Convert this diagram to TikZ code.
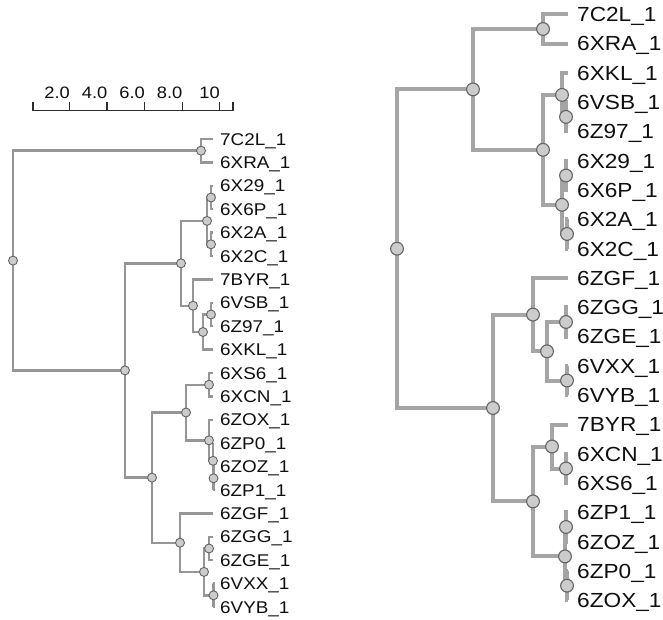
\documentclass[tikz,border=0pt]{standalone}
\usepackage{fontspec}
\setmainfont{Liberation Sans}[FakeStretch=1.11]
\definecolor{edgegray}{RGB}{150,150,150}
\definecolor{redgegray}{RGB}{165,165,165}
\definecolor{circfill}{RGB}{204,204,204}
\definecolor{circline}{RGB}{100,100,100}
\definecolor{txt}{RGB}{15,15,15}
\definecolor{scl}{RGB}{45,45,45}
\begin{document}
\begin{tikzpicture}[x=1pt,y=-1pt,
  ledge/.style={draw=edgegray, line width=2.4pt, line join=miter},
  redge/.style={draw=redgegray, line width=4pt, line join=miter},
  lcirc/.style={circle, fill=circfill, draw=circline, line width=0.9pt, minimum size=9pt, inner sep=0pt},
  rcirc/.style={circle, fill=circfill, draw=circline, line width=1.1pt, minimum size=12.8pt, inner sep=0pt},
  llab/.style={anchor=base west, inner sep=0pt, xshift=7pt, yshift=-6.1pt, text=txt, font=\fontsize{17}{19}\selectfont},
  rlab/.style={anchor=base west, inner sep=0pt, xshift=9pt, yshift=-7.3pt, text=txt, font=\fontsize{20.4}{23}\selectfont},
  slab/.style={anchor=base east, inner sep=0pt, text=txt, font=\fontsize{16.5}{18}\selectfont},
  sbar/.style={draw=scl, line width=1.1pt}
]
\useasboundingbox (0,0) rectangle (663,620);

% ---------------- scale bar ----------------
\coordinate (s0) at (33,110.7);
\coordinate (s1) at (69.3,110.7);
\coordinate (s2) at (106.8,110.7);
\coordinate (s3) at (144.6,110.7);
\coordinate (s4) at (182.2,110.7);
\coordinate (s5) at (219.5,110.7);
\coordinate (s6) at (233,110.7);
\draw[sbar] (s0) -- (s6);
\foreach \s in {s0,s1,s3,s4,s5,s6} {\draw[sbar] (\s) -- ++(0,-9);}
\draw[sbar, line width=2pt] (s2) -- ++(0,-9);
\node[slab] (sl1) at (70,98.3) {2.0};
\node[slab] (sl2) at (107.5,98.3) {4.0};
\node[slab] (sl3) at (145,98.3) {6.0};
\node[slab] (sl4) at (182.5,98.3) {8.0};
\node[slab] (sl5) at (220,98.3) {10};

% ---------------- left tree ----------------
\coordinate (l0) at (213,139);
\coordinate (l1) at (213,162.4);
\coordinate (l2) at (213,185.8);
\coordinate (l3) at (213,209.2);
\coordinate (l4) at (213,232.6);
\coordinate (l5) at (213,256);
\coordinate (l6) at (213,279.4);
\coordinate (l7) at (213,302.8);
\coordinate (l8) at (213,326.2);
\coordinate (l9) at (213,349.6);
\coordinate (l10) at (213,373);
\coordinate (l11) at (213,396.4);
\coordinate (l12) at (213,419.8);
\coordinate (l13) at (213,443.2);
\coordinate (l14) at (213,466.6);
\coordinate (l15) at (213,490);
\coordinate (l16) at (213,513.4);
\coordinate (l17) at (213,536.8);
\coordinate (l18) at (213,560.2);
\coordinate (l19) at (213,583.6);
\coordinate (l20) at (213,607);

\coordinate (la) at (201,150.7);
\coordinate (lc1a) at (211,197.5);
\coordinate (lc1b) at (211,244.3);
\coordinate (lc1) at (207,220.9);
\coordinate (le) at (211,314.5);
\coordinate (ld) at (203,332);
\coordinate (lc2) at (193,305.7);
\coordinate (lb1) at (181,263.3);
\coordinate (lh) at (209,384.7);
\coordinate (lk) at (213.5,478.3);
\coordinate (lj) at (213,460.8);
\coordinate (li) at (209,440.3);
\coordinate (lf) at (186,412.5);
\coordinate (lm) at (209,548.5);
\coordinate (ln) at (213.5,595.3);
\coordinate (ll) at (204,571.9);
\coordinate (lg) at (180,542.7);
\coordinate (lb2) at (152,477.6);
\coordinate (lb) at (125,370.4);
\coordinate (lroot) at (13,260.6);

\foreach \p/\c in {lroot/la, lroot/lb, la/l0, la/l1, lb/lb1, lb/lb2,
  lb1/lc1, lb1/lc2, lc1/lc1a, lc1/lc1b, lc1a/l2, lc1a/l3, lc1b/l4, lc1b/l5,
  lc2/l6, lc2/ld, ld/le, ld/l9, le/l7, le/l8,
  lb2/lf, lb2/lg, lf/lh, lf/li, lh/l10, lh/l11, li/l12, li/lj, lj/l13, lj/lk, lk/l14, lk/l15,
  lg/l16, lg/ll, ll/lm, ll/ln, lm/l17, lm/l18, ln/l19, ln/l20}
  {\draw[ledge] (\p) |- (\c);}

\foreach \n in {lroot,la,lb,lb1,lb2,lc1,lc1a,lc1b,lc2,ld,le,lf,lh,li,lj,lk,lg,ll,lm,ln}
  {\node[lcirc] (c\n) at (\n) {};}

\node[llab] (t0) at (l0) {7C2L\_1};
\node[llab] (t1) at (l1) {6XRA\_1};
\node[llab] (t2) at (l2) {6X29\_1};
\node[llab] (t3) at (l3) {6X6P\_1};
\node[llab] (t4) at (l4) {6X2A\_1};
\node[llab] (t5) at (l5) {6X2C\_1};
\node[llab] (t6) at (l6) {7BYR\_1};
\node[llab] (t7) at (l7) {6VSB\_1};
\node[llab] (t8) at (l8) {6Z97\_1};
\node[llab] (t9) at (l9) {6XKL\_1};
\node[llab] (t10) at (l10) {6XS6\_1};
\node[llab] (t11) at (l11) {6XCN\_1};
\node[llab] (t12) at (l12) {6ZOX\_1};
\node[llab] (t13) at (l13) {6ZP0\_1};
\node[llab] (t14) at (l14) {6ZOZ\_1};
\node[llab] (t15) at (l15) {6ZP1\_1};
\node[llab] (t16) at (l16) {6ZGF\_1};
\node[llab] (t17) at (l17) {6ZGG\_1};
\node[llab] (t18) at (l18) {6ZGE\_1};
\node[llab] (t19) at (l19) {6VXX\_1};
\node[llab] (t20) at (l20) {6VYB\_1};

% ---------------- right tree ----------------
\coordinate (r0) at (568,14.3);
\coordinate (r1) at (568,43.6);
\coordinate (r2) at (568,72.9);
\coordinate (r3) at (568,102.2);
\coordinate (r4) at (568,131.5);
\coordinate (r5) at (568,160.8);
\coordinate (r6) at (568,190.1);
\coordinate (r7) at (568,219.4);
\coordinate (r8) at (568,248.7);
\coordinate (r9) at (568,278);
\coordinate (r10) at (568,307.3);
\coordinate (r11) at (568,336.6);
\coordinate (r12) at (568,365.9);
\coordinate (r13) at (568,395.2);
\coordinate (r14) at (568,424.5);
\coordinate (r15) at (568,453.8);
\coordinate (r16) at (568,483.1);
\coordinate (r17) at (568,512.4);
\coordinate (r18) at (568,541.7);
\coordinate (r19) at (568,571);
\coordinate (r20) at (568,600.3);

\coordinate (RA) at (543,29);
\coordinate (RE) at (566,116.9);
\coordinate (RC) at (562,94.9);
\coordinate (RF) at (566,175.5);
\coordinate (RG) at (567,234);
\coordinate (RD) at (562,204.8);
\coordinate (RB) at (543,149.8);
\coordinate (RT) at (473,89.4);
\coordinate (RL) at (566,322);
\coordinate (RM) at (567,380.5);
\coordinate (RK) at (547,351.3);
\coordinate (RI) at (533,314.6);
\coordinate (RP) at (566,468.5);
\coordinate (RN) at (552,446.5);
\coordinate (RQ) at (566,527);
\coordinate (RR) at (567,585.7);
\coordinate (RO) at (565,556.4);
\coordinate (RJ) at (533,501.4);
\coordinate (RH) at (493,408);
\coordinate (Rroot) at (397,248.7);

\foreach \p/\c in {Rroot/RT, Rroot/RH, RT/RA, RT/RB, RA/r0, RA/r1,
  RB/RC, RB/RD, RC/r2, RC/RE, RE/r3, RE/r4, RD/RF, RD/RG, RF/r5, RF/r6, RG/r7, RG/r8,
  RH/RI, RH/RJ, RI/r9, RI/RK, RK/RL, RK/RM, RL/r10, RL/r11, RM/r12, RM/r13,
  RJ/RN, RJ/RO, RN/r14, RN/RP, RP/r15, RP/r16, RO/RQ, RO/RR, RQ/r17, RQ/r18, RR/r19, RR/r20}
  {\draw[redge] (\p) |- (\c);}

\foreach \n in {Rroot,RT,RA,RB,RC,RE,RD,RF,RG,RH,RI,RK,RL,RM,RJ,RN,RP,RO,RQ,RR}
  {\node[rcirc] (c\n) at (\n) {};}

\node[rlab] (u0) at (r0) {7C2L\_1};
\node[rlab] (u1) at (r1) {6XRA\_1};
\node[rlab] (u2) at (r2) {6XKL\_1};
\node[rlab] (u3) at (r3) {6VSB\_1};
\node[rlab] (u4) at (r4) {6Z97\_1};
\node[rlab] (u5) at (r5) {6X29\_1};
\node[rlab] (u6) at (r6) {6X6P\_1};
\node[rlab] (u7) at (r7) {6X2A\_1};
\node[rlab] (u8) at (r8) {6X2C\_1};
\node[rlab] (u9) at (r9) {6ZGF\_1};
\node[rlab] (u10) at (r10) {6ZGG\_1};
\node[rlab] (u11) at (r11) {6ZGE\_1};
\node[rlab] (u12) at (r12) {6VXX\_1};
\node[rlab] (u13) at (r13) {6VYB\_1};
\node[rlab] (u14) at (r14) {7BYR\_1};
\node[rlab] (u15) at (r15) {6XCN\_1};
\node[rlab] (u16) at (r16) {6XS6\_1};
\node[rlab] (u17) at (r17) {6ZP1\_1};
\node[rlab] (u18) at (r18) {6ZOZ\_1};
\node[rlab] (u19) at (r19) {6ZP0\_1};
\node[rlab] (u20) at (r20) {6ZOX\_1};
\end{tikzpicture}
\end{document}
